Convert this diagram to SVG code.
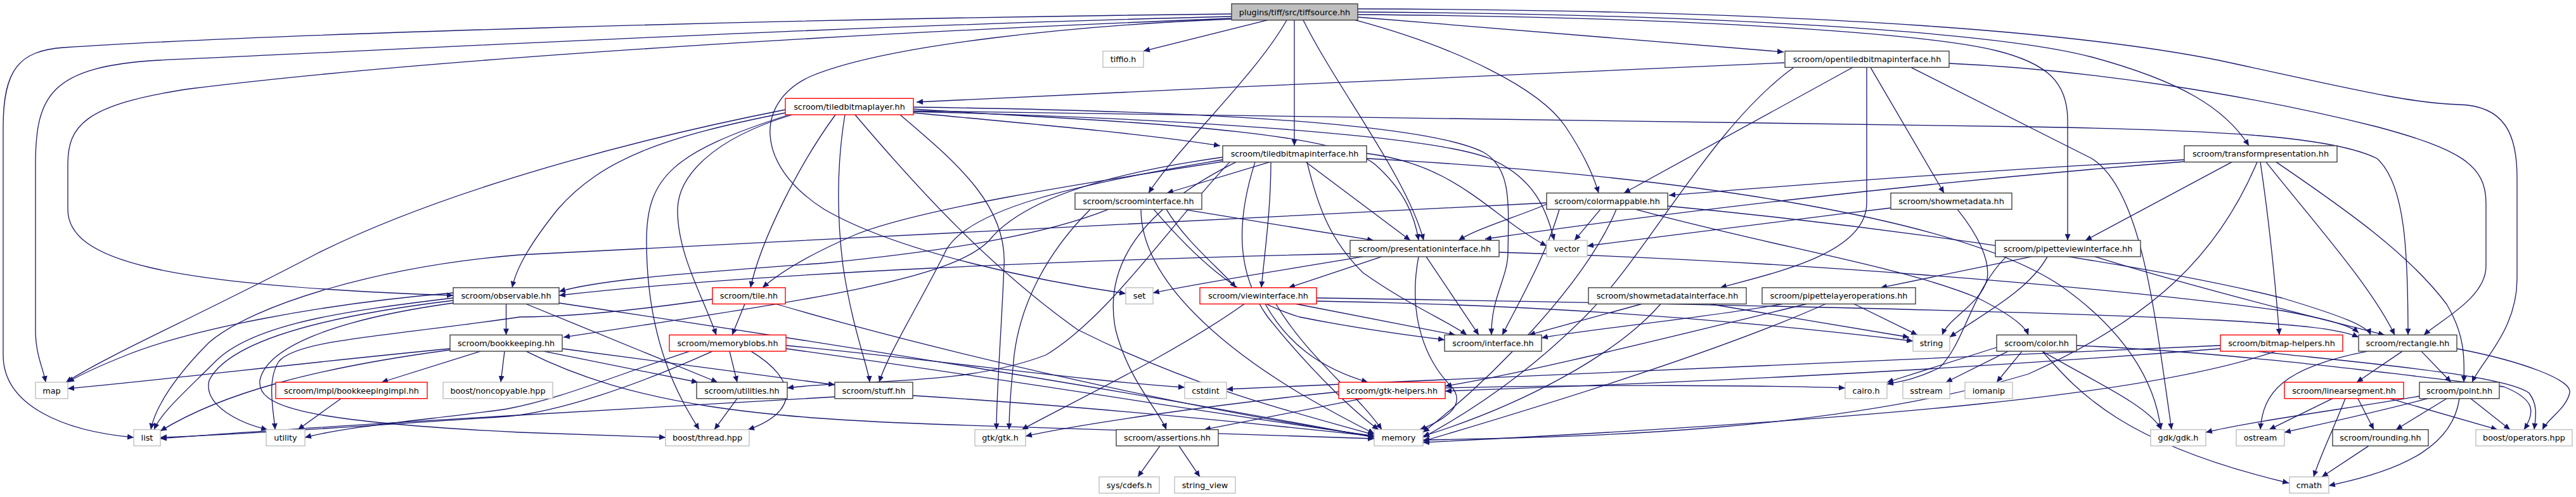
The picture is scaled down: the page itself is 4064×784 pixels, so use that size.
<svg xmlns="http://www.w3.org/2000/svg" width="4064" height="784" viewBox="0 0 4064 784">
<defs>
<marker id="a" markerUnits="userSpaceOnUse" markerWidth="11" markerHeight="9" refX="10" refY="4.5" orient="auto"><path d="M0,0 L10,4.5 L0,9 z" fill="#191970"/></marker>
<style>
.e{fill:none;stroke:#191970;stroke-width:1.3;marker-end:url(#a)}
.n rect{fill:#fff;stroke:#404040;stroke-width:1.4}
.x rect{fill:#fff;stroke:#bfbfbf;stroke-width:1.4}
.r rect{fill:#fff;stroke:#ff0000;stroke-width:1.4}
.root rect{fill:#bfbfbf;stroke:#404040;stroke-width:1.4}
text{font-family:"DejaVu Sans","Liberation Sans",sans-serif;font-size:12.8px;text-anchor:middle;fill:#000}
</style>
</defs>
<rect width="4064" height="784" fill="#fff"/>
<g id="edges">
<path class="e" d="M2000,31.7 L1804,80.6"/>
<path class="e" d="M2042,31.7 L2042,229.9"/>
<path class="e" d="M2030,31.7 C1980,120 1860,230 1812,304.5"/>
<path class="e" d="M2056,31.7 C2110,140 2220,280 2246,379.2"/>
<path class="e" d="M2142,27 L2814,82"/>
<path class="e" d="M2142,19 C2700,22 3150,50 3300,90 C3440,128 3510,170 3548,229.9"/>
<path class="e" d="M2138,31.7 C2300,75 2430,140 2470,200 C2500,245 2515,280 2522,304.5"/>
<path class="e" d="M2142,23 C2700,27 3050,55 3150,80 C3230,100 3262,130 3262,190 L3262,379.2"/>
<path class="e" d="M2142,14 C2900,16 3300,55 3500,95 C3700,138 3800,163 3880,165 C3950,167 3971,210 3971,280 L3971,440 C3971,520 3915,570 3900,603"/>
<path class="e" d="M1943,22 C1200,30 400,55 100,75 C30,80 5,110 5,200 L5,560 C5,640 100,680 211,690"/>
<path class="e" d="M1943,26 C1300,42 700,75 250,95 C80,105 56,150 56,260 L56,520 C56,560 68,580 72,603"/>
<path class="e" d="M1943,29 C1400,50 700,90 300,140 C130,165 107,200 107,260 L107,330 C107,410 250,450 715,466"/>
<path class="e" d="M1943,30 C1700,40 1400,70 1280,120 C1190,160 1190,260 1300,330 C1420,400 1650,445 1776,463"/>
<path class="e" d="M1441,178 C1600,193 1800,210 1925,229.9"/>
<path class="e" d="M1441,172 C1700,190 2100,200 2170,260 C2215,300 2232,340 2238,379.2"/>
<path class="e" d="M1441,169 C1900,175 2250,195 2340,240 C2385,265 2380,320 2379,400 C2378,440 2352,470 2353,528.4"/>
<path class="e" d="M1441,175 C2000,180 2600,190 3200,200 C3500,205 3680,215 3750,250 C3795,290 3799,400 3799,528.4"/>
<path class="e" d="M1239,173 C1000,220 700,300 500,400 C330,490 170,560 104,603"/>
<path class="e" d="M1239,178 C1050,215 950,250 880,330 C840,380 815,420 808,453.8"/>
<path class="e" d="M1250,181 C1120,220 1070,280 1069,330 C1068,400 1110,470 1130,528.4"/>
<path class="e" d="M1245,181 C1060,240 1020,280 1020,380 C1020,550 1080,640 1103,677.7"/>
<path class="e" d="M1318,181 C1260,260 1200,380 1184,453.8"/>
<path class="e" d="M1333,181 C1320,260 1320,340 1330,420 C1345,520 1370,580 1372,603"/>
<path class="e" d="M1349,181 C1450,300 1560,420 1700,520 C1900,620 2080,660 2168,686"/>
<path class="e" d="M1441,176 C1800,185 2250,210 2350,250 C2420,280 2440,330 2452,379.2"/>
<path class="e" d="M1420,181 C1500,250 1590,320 1584,420 C1580,520 1572,620 1572,677.7"/>
<path class="e" d="M2003,255.6 L1841,304.5"/>
<path class="e" d="M2060,255.6 L2225,379.2"/>
<path class="e" d="M2005,255.6 C2005,330 1995,400 1990,453.8"/>
<path class="e" d="M2062,255.6 C2080,330 2100,380 2150,430 C2220,480 2290,510 2314,528.4"/>
<path class="e" d="M1935,254 C1700,290 1450,330 1350,370 C1280,400 1230,430 1203,453.8"/>
<path class="e" d="M1929,248 C1700,280 1600,330 1560,380 C1500,440 1300,470 889,532"/>
<path class="e" d="M1929,252 C1700,290 1520,330 1490,400 C1450,480 1400,560 1387,603"/>
<path class="e" d="M1980,255.6 C1950,350 1950,430 2000,500 C2080,600 2150,660 2175,677.7"/>
<path class="e" d="M1950,255.6 C1800,330 1740,420 1760,520 C1780,600 1830,650 1840,677.7"/>
<path class="e" d="M1940,255.6 C1850,350 1750,500 1650,560 C1520,610 1350,598 1242,612"/>
<path class="e" d="M2156,242 C2300,260 2350,340 2440,388"/>
<path class="e" d="M2156,250 C2700,280 3100,350 3250,450 C3350,520 3400,600 3409,677.7"/>
<path class="e" d="M1866,330.2 L2167,379.2"/>
<path class="e" d="M1749,330.2 C1650,370 1500,395 1300,415 C1100,430 950,440 882,460"/>
<path class="e" d="M1840,330.2 C1870,380 1920,420 1950,453.8"/>
<path class="e" d="M1820,330.2 C1880,400 1950,470 2050,500 C2150,520 2230,530 2279,536"/>
<path class="e" d="M1720,330.2 C1650,400 1610,480 1600,560 C1594,620 1592,650 1592,677.7"/>
<path class="e" d="M1800,330.2 C1800,450 1950,560 2050,620 C2110,655 2150,675 2168,684"/>
<path class="e" d="M2815,99 C2500,110 1900,140 1446,161"/>
<path class="e" d="M2923,106.3 L2562,304.5"/>
<path class="e" d="M2945,106.3 L2945,320 C2945,400 2800,430 2714,453.8"/>
<path class="e" d="M2951,106.3 L3067,304.5"/>
<path class="e" d="M3075,100 C3300,110 3550,150 3750,200 C3880,235 3922,260 3922,320 L3922,420 C3922,470 3850,505 3824,528.4"/>
<path class="e" d="M3015,106.3 C3100,150 3200,200 3300,250 C3380,300 3400,500 3426,677.7"/>
<path class="e" d="M2830,106.3 C2700,200 2600,400 2500,500 C2400,600 2300,660 2245,690"/>
<path class="e" d="M3446,252 C3100,270 2800,295 2633,308"/>
<path class="e" d="M3446,255 C3000,290 2600,340 2343,377"/>
<path class="e" d="M3521,255.6 L3290,379.2"/>
<path class="e" d="M3566,255.6 C3580,350 3590,450 3596,528.4"/>
<path class="e" d="M3575,255.6 C3650,350 3740,450 3778,528.4"/>
<path class="e" d="M3591,255.6 C3700,330 3800,400 3860,480 C3890,530 3888,570 3887,603"/>
<path class="e" d="M3561,255.6 C3500,400 3400,500 3200,590 C2900,680 2500,690 2245,694"/>
<path class="e" d="M2440,322 C2400,340 2330,360 2301,379.2"/>
<path class="e" d="M2440,320 C1800,350 1200,380 820,402 C600,420 400,480 330,540 C280,590 245,640 238,677.7"/>
<path class="e" d="M2525,330.2 L2484,379.2"/>
<path class="e" d="M2580,330.2 C2800,390 3000,420 3120,470 C3170,495 3195,515 3200,528.4"/>
<path class="e" d="M2460,330.2 C2440,400 2400,470 2370,528.4"/>
<path class="e" d="M2550,330.2 C2500,450 2350,600 2245,682"/>
<path class="e" d="M2631,325 C3000,360 3400,420 3600,470 C3700,500 3735,515 3740,528.4"/>
<path class="e" d="M2983,328 C2800,350 2600,375 2504,388"/>
<path class="e" d="M3088,330.2 C3120,370 3140,410 3135,440 C3125,480 3075,500 3064,528.4"/>
<path class="e" d="M2150,404.9 C2000,430 1900,445 1819,462"/>
<path class="e" d="M2180,404.9 L2033,453.8"/>
<path class="e" d="M2130,400 C1700,410 1200,430 882,466"/>
<path class="e" d="M2250,404.9 L2333,528.4"/>
<path class="e" d="M2238,404.9 C2220,500 2250,570 2290,610 C2320,645 2260,670 2240,677.7"/>
<path class="e" d="M2365,398 C2800,410 3300,450 3600,490 C3680,505 3710,515 3721,525"/>
<path class="e" d="M3205,404.9 L2967,453.8"/>
<path class="e" d="M3305,404.9 C3450,450 3650,500 3762,528.4"/>
<path class="e" d="M3230,404.9 C3200,460 3120,500 3076,532"/>
<path class="e" d="M3165,404.9 C3110,460 3100,540 3060,580 C3020,600 2990,603 2977,606"/>
<path class="e" d="M2045,479.5 L2296,528.4"/>
<path class="e" d="M1963,479.5 C1850,560 1680,640 1612,677.7"/>
<path class="e" d="M1996,479.5 C2030,540 2080,580 2158,603"/>
<path class="e" d="M2013,479.5 C2060,560 2140,620 2180,677.7"/>
<path class="e" d="M2077,475 C2400,480 2700,500 3018,538"/>
<path class="e" d="M2077,470 C2600,478 3200,490 3500,505 C3620,512 3690,518 3721,532"/>
<path class="e" d="M2590,479.5 L2412,528.4"/>
<path class="e" d="M2697,479.5 L3012,532"/>
<path class="e" d="M2620,479.5 C2550,560 2400,640 2245,688"/>
<path class="e" d="M2812,479.5 C2700,500 2500,520 2432,533"/>
<path class="e" d="M2925,479.5 L3025,528.4"/>
<path class="e" d="M2880,479.5 C2700,560 2400,650 2245,696"/>
<path class="e" d="M2850,479.5 C2600,540 2400,590 2280,609"/>
<path class="e" d="M3150,548 L2977,603"/>
<path class="e" d="M3168,554.1 L3070,603"/>
<path class="e" d="M3190,554.1 L3150,603"/>
<path class="e" d="M3222,554.1 C3300,600 3390,640 3410,677.7"/>
<path class="e" d="M3222,554.1 C3280,620 3350,700 3611,762"/>
<path class="e" d="M3276,545 C3500,555 3700,580 3950,610 C4000,630 4000,650 3982,677.7"/>
<path class="e" d="M3503,545 C3000,570 2400,590 1935,614"/>
<path class="e" d="M3590,554.1 C3400,620 3000,660 2245,698"/>
<path class="e" d="M3503,550 C3000,590 2600,605 2280,617"/>
<path class="e" d="M3560,554.1 C3700,570 3950,590 3990,620 C4005,640 4000,660 3998,677.7"/>
<path class="e" d="M3790,554.1 L3718,603"/>
<path class="e" d="M3820,554.1 L3867,603"/>
<path class="e" d="M3735,554.1 C3600,580 3570,620 3566,677.7"/>
<path class="e" d="M3876,550 C3980,570 4060,600 4054,620 C4048,645 4020,660 4011,677.7"/>
<path class="e" d="M3680,628.7 L3580,677.7"/>
<path class="e" d="M3700,628.7 C3680,680 3660,720 3650,752.3"/>
<path class="e" d="M3720,628.7 L3745,677.7"/>
<path class="e" d="M3770,628.7 L3940,677.7"/>
<path class="e" d="M3817,625 C3700,645 3550,665 3480,682"/>
<path class="e" d="M3830,628.7 C3750,650 3680,665 3604,682"/>
<path class="e" d="M3860,628.7 L3780,677.7"/>
<path class="e" d="M3898,628.7 L3960,677.7"/>
<path class="e" d="M3880,628.7 C3870,700 3800,740 3674,766"/>
<path class="e" d="M3737,703.4 L3663,752.3"/>
<path class="e" d="M798.5,479.5 L798.5,528.4"/>
<path class="e" d="M830,479.5 L1132,603"/>
<path class="e" d="M715,470 C550,490 400,510 340,570 C290,620 255,650 243,677.7"/>
<path class="e" d="M715,462 C500,480 300,520 200,560 C150,580 120,595 107,603"/>
<path class="e" d="M715,474 C500,500 360,540 330,600 C320,640 380,668 422,677.7"/>
<path class="e" d="M715,478 C520,505 420,550 410,600 C405,640 470,665 820,682 C950,686 1010,688 1050,690"/>
<path class="e" d="M882,478 C1300,540 1800,620 2168,690"/>
<path class="e" d="M710,550 C500,570 250,600 107,613"/>
<path class="e" d="M710,552 C500,580 350,620 253,680"/>
<path class="e" d="M758,554.1 L602,603"/>
<path class="e" d="M796,554.1 L790,603"/>
<path class="e" d="M858,554.1 L1101,603"/>
<path class="e" d="M887,550 L1317,607"/>
<path class="e" d="M830,554.1 C1000,640 1200,660 1500,670 C1800,680 2000,685 2168,692"/>
<path class="e" d="M538,628.7 L470,677.7"/>
<path class="e" d="M1175,479.5 L1155,528.4"/>
<path class="e" d="M1124,472 C1000,490 900,500 820,500 C620,530 470,535 440,570 C420,600 432,650 434,677.7"/>
<path class="e" d="M1224,479.5 C1500,560 1900,650 2168,688"/>
<path class="e" d="M1088,554.1 C950,600 880,630 800,645 C700,660 560,670 481,690"/>
<path class="e" d="M1124,554.1 C1000,610 880,650 800,657 C600,670 400,685 253,690"/>
<path class="e" d="M1151,554.1 L1163,603"/>
<path class="e" d="M1185,554.1 C1260,600 1260,650 1180,677.7"/>
<path class="e" d="M1240,550 C1600,600 1900,650 2168,688"/>
<path class="e" d="M1240,545 C1500,570 1700,600 1869,611"/>
<path class="e" d="M1163,628.7 L1127,677.7"/>
<path class="e" d="M1317,626 C1100,640 900,650 800,656 C600,668 400,680 253,692"/>
<path class="e" d="M1440,624 C1700,640 2000,670 2168,688"/>
<path class="e" d="M2112,618 C1900,640 1700,670 1618,688"/>
<path class="e" d="M2150,628.7 L1900,677.7"/>
<path class="e" d="M2280,612 C2500,606 2800,608 2911,612"/>
<path class="e" d="M1830,703.4 L1795,752.3"/>
<path class="e" d="M1860,703.4 L1893,752.3"/>
</g>
<g id="node-tiffsource" class="root"><rect x="1943" y="6" width="199" height="25.7"/><text x="2042.5" y="23.5">plugins/tiff/src/tiffsource.hh</text></g>
<g id="node-tiffio" class="x"><rect x="1740" y="80.6" width="64" height="25.7"/><text x="1772" y="98.1">tiffio.h</text></g>
<g id="node-opentiledbitmapinterface" class="n"><rect x="2816" y="80.6" width="259" height="25.7"/><text x="2945.5" y="98.1">scroom/opentiledbitmapinterface.hh</text></g>
<g id="node-tiledbitmaplayer" class="r"><rect x="1239" y="155.3" width="202" height="25.7"/><text x="1340" y="172.8">scroom/tiledbitmaplayer.hh</text></g>
<g id="node-tiledbitmapinterface" class="n"><rect x="1929" y="229.9" width="227" height="25.7"/><text x="2042.5" y="247.4">scroom/tiledbitmapinterface.hh</text></g>
<g id="node-transformpresentation" class="n"><rect x="3446" y="229.9" width="241" height="25.7"/><text x="3566.5" y="247.4">scroom/transformpresentation.hh</text></g>
<g id="node-scroominterface" class="n"><rect x="1696" y="304.5" width="200" height="25.7"/><text x="1796" y="322">scroom/scroominterface.hh</text></g>
<g id="node-colormappable" class="n"><rect x="2440" y="304.5" width="191" height="25.7"/><text x="2535.5" y="322">scroom/colormappable.hh</text></g>
<g id="node-showmetadata" class="n"><rect x="2983" y="304.5" width="191" height="25.7"/><text x="3078.5" y="322">scroom/showmetadata.hh</text></g>
<g id="node-presentationinterface" class="n"><rect x="2130" y="379.2" width="235" height="25.7"/><text x="2247.5" y="396.7">scroom/presentationinterface.hh</text></g>
<g id="node-vector" class="x"><rect x="2440" y="379.2" width="64" height="25.7"/><text x="2472" y="396.7">vector</text></g>
<g id="node-pipetteviewinterface" class="n"><rect x="3148" y="379.2" width="229" height="25.7"/><text x="3262.5" y="396.7">scroom/pipetteviewinterface.hh</text></g>
<g id="node-observable" class="n"><rect x="715" y="453.8" width="167" height="25.7"/><text x="798.5" y="471.3">scroom/observable.hh</text></g>
<g id="node-tile" class="r"><rect x="1124" y="453.8" width="115" height="25.7"/><text x="1181.5" y="471.3">scroom/tile.hh</text></g>
<g id="node-set" class="x"><rect x="1776" y="453.8" width="43" height="25.7"/><text x="1797.5" y="471.3">set</text></g>
<g id="node-viewinterface" class="r"><rect x="1893" y="453.8" width="184" height="25.7"/><text x="1985" y="471.3">scroom/viewinterface.hh</text></g>
<g id="node-showmetadatainterface" class="n"><rect x="2506" y="453.8" width="249" height="25.7"/><text x="2630.5" y="471.3">scroom/showmetadatainterface.hh</text></g>
<g id="node-pipettelayeroperations" class="n"><rect x="2780" y="453.8" width="242" height="25.7"/><text x="2901" y="471.3">scroom/pipettelayeroperations.hh</text></g>
<g id="node-bookkeeping" class="n"><rect x="710" y="528.4" width="177" height="25.7"/><text x="798.5" y="545.9">scroom/bookkeeping.hh</text></g>
<g id="node-memoryblobs" class="r"><rect x="1056" y="528.4" width="184" height="25.7"/><text x="1148" y="545.9">scroom/memoryblobs.hh</text></g>
<g id="node-interface" class="n"><rect x="2279" y="528.4" width="153" height="25.7"/><text x="2355.5" y="545.9">scroom/interface.hh</text></g>
<g id="node-string" class="x"><rect x="3018" y="528.4" width="58" height="25.7"/><text x="3047" y="545.9">string</text></g>
<g id="node-color" class="n"><rect x="3150" y="528.4" width="126" height="25.7"/><text x="3213" y="545.9">scroom/color.hh</text></g>
<g id="node-bitmap-helpers" class="r"><rect x="3503" y="528.4" width="193" height="25.7"/><text x="3599.5" y="545.9">scroom/bitmap-helpers.hh</text></g>
<g id="node-rectangle" class="n"><rect x="3721" y="528.4" width="155" height="25.7"/><text x="3798.5" y="545.9">scroom/rectangle.hh</text></g>
<g id="node-map" class="x"><rect x="56" y="603" width="51" height="25.7"/><text x="81.5" y="620.5">map</text></g>
<g id="node-bookkeepingimpl" class="r"><rect x="435" y="603" width="239" height="25.7"/><text x="554.5" y="620.5">scroom/impl/bookkeepingimpl.hh</text></g>
<g id="node-noncopyable" class="x"><rect x="699" y="603" width="173" height="25.7"/><text x="785.5" y="620.5">boost/noncopyable.hpp</text></g>
<g id="node-utilities" class="n"><rect x="1099" y="603" width="143" height="25.7"/><text x="1170.5" y="620.5">scroom/utilities.hh</text></g>
<g id="node-stuff" class="n"><rect x="1317" y="603" width="123" height="25.7"/><text x="1378.5" y="620.5">scroom/stuff.hh</text></g>
<g id="node-cstdint" class="x"><rect x="1869" y="603" width="66" height="25.7"/><text x="1902" y="620.5">cstdint</text></g>
<g id="node-gtk-helpers" class="r"><rect x="2112" y="603" width="168" height="25.7"/><text x="2196" y="620.5">scroom/gtk-helpers.hh</text></g>
<g id="node-cairo" class="x"><rect x="2911" y="603" width="66" height="25.7"/><text x="2944" y="620.5">cairo.h</text></g>
<g id="node-sstream" class="x"><rect x="3002" y="603" width="74" height="25.7"/><text x="3039" y="620.5">sstream</text></g>
<g id="node-iomanip" class="x"><rect x="3100" y="603" width="75" height="25.7"/><text x="3137.5" y="620.5">iomanip</text></g>
<g id="node-linearsegment" class="r"><rect x="3604" y="603" width="188" height="25.7"/><text x="3698" y="620.5">scroom/linearsegment.hh</text></g>
<g id="node-point" class="n"><rect x="3817" y="603" width="126" height="25.7"/><text x="3880" y="620.5">scroom/point.hh</text></g>
<g id="node-list" class="x"><rect x="211" y="677.7" width="42" height="25.7"/><text x="232" y="695.2">list</text></g>
<g id="node-utility" class="x"><rect x="420" y="677.7" width="61" height="25.7"/><text x="450.5" y="695.2">utility</text></g>
<g id="node-thread" class="x"><rect x="1050" y="677.7" width="132" height="25.7"/><text x="1116" y="695.2">boost/thread.hpp</text></g>
<g id="node-gtk" class="x"><rect x="1538" y="677.7" width="80" height="25.7"/><text x="1578" y="695.2">gtk/gtk.h</text></g>
<g id="node-assertions" class="n"><rect x="1761" y="677.7" width="161" height="25.7"/><text x="1841.5" y="695.2">scroom/assertions.hh</text></g>
<g id="node-memory" class="x"><rect x="2168" y="677.7" width="77" height="25.7"/><text x="2206.5" y="695.2">memory</text></g>
<g id="node-gdk" class="x"><rect x="3393" y="677.7" width="87" height="25.7"/><text x="3436.5" y="695.2">gdk/gdk.h</text></g>
<g id="node-ostream" class="x"><rect x="3528" y="677.7" width="76" height="25.7"/><text x="3566" y="695.2">ostream</text></g>
<g id="node-rounding" class="n"><rect x="3680" y="677.7" width="151" height="25.7"/><text x="3755.5" y="695.2">scroom/rounding.hh</text></g>
<g id="node-operators" class="x"><rect x="3906" y="677.7" width="152" height="25.7"/><text x="3982" y="695.2">boost/operators.hpp</text></g>
<g id="node-cdefs" class="x"><rect x="1734" y="752.3" width="95" height="25.7"/><text x="1781.5" y="769.8">sys/cdefs.h</text></g>
<g id="node-string_view" class="x"><rect x="1853" y="752.3" width="96" height="25.7"/><text x="1901" y="769.8">string_view</text></g>
<g id="node-cmath" class="x"><rect x="3612" y="752.3" width="62" height="25.7"/><text x="3643" y="769.8">cmath</text></g>
</svg>
